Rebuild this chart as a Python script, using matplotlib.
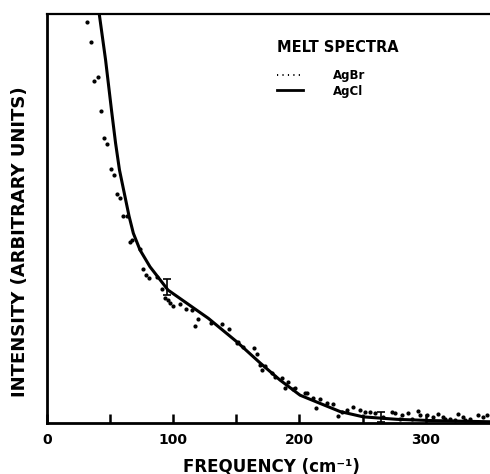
import matplotlib
matplotlib.use("Agg")
import matplotlib.pyplot as plt
from matplotlib.lines import Line2D
from matplotlib.ticker import FixedLocator

plt.rcParams['font.family'] = ['DejaVu Sans']

# AgCl melt spectrum (solid curve)
agcl_freq = [41.4, 46.4, 51.1, 54.3, 57.4, 65.0, 68.4, 73.7, 81.6, 90.9, 95.9, 107.0,
             127.8, 150.6, 168.8, 184.6, 200.5, 216.3, 232.2, 250.6, 277.1, 303.5, 351.0]
agcl_int = [100.0, 88.8, 76.5, 68.5, 61.9, 50.6, 46.4, 42.3, 38.2, 34.5, 32.5, 30.1,
            25.6, 19.8, 14.7, 10.5, 6.8, 4.8, 2.8, 1.5, 0.9, 0.6, 0.3]

# AgBr melt spectrum (dotted data)
agbr_freq = [31.9, 34.9, 37.5, 40.2, 42.8, 45.4, 47.8, 50.5, 52.9, 55.5, 57.8, 60.5, 63.2,
             65.8, 67.6, 73.7, 75.8, 78.4, 81.1, 86.9, 90.9, 93.5, 96.1, 97.5, 100.1,
             105.4, 109.9, 114.7, 117.0, 119.7, 130.0, 138.9, 144.5, 150.3, 151.6, 155.5,
             164.0, 166.2, 168.8, 170.4, 172.7, 178.1, 180.7, 186.0, 191.2, 188.6, 195.2,
             196.5, 204.4, 205.8, 211.0, 216.3, 213.2, 221.6, 226.4, 233.5, 230.8, 237.5,
             242.7, 248.0, 252.0, 255.9, 259.9, 266.5, 273.1, 275.8, 281.1, 286.3, 294.2,
             295.6, 300.9, 306.1, 310.1, 314.0, 319.3, 325.9, 329.9, 335.2, 341.8, 345.7,
             348.4, 279.7, 289.2, 315.4, 323.3, 331.2]
agbr_int = [98.0, 93.2, 83.7, 84.5, 76.3, 69.8, 68.1, 62.2, 60.6, 56.0, 55.0, 50.6, 50.6,
            44.3, 44.7, 42.5, 37.7, 36.2, 35.4, 35.6, 32.7, 30.5, 30.1, 29.4, 28.6,
            29.1, 27.9, 27.6, 23.7, 25.4, 24.4, 24.2, 23.1, 19.6, 19.9, 18.5,
            18.4, 16.9, 14.2, 13.0, 13.9, 12.2, 11.3, 10.9, 10.1, 8.5, 8.2,
            8.5, 7.3, 7.3, 6.0, 5.8, 3.6, 4.8, 4.6, 2.8, 1.7, 3.2,
            4.0, 3.3, 2.8, 2.8, 2.4, 1.5, 2.8, 2.5, 2.0, 2.4, 3.0,
            2.0, 2.0, 1.5, 2.2, 1.5, 1.1, 2.2, 1.5, 0.9, 2.0, 1.5,
            2.0, 0.9, 1.0, 0.9, 0.7, 0.7]

# error bars
err_freq = [94.8, 264.7]
err_int = [33.2, 1.55]
err_lo = [1.9, 1.25]
err_hi = [1.9, 1.25]

xticks_major = [0, 100, 200, 300]
xticks_minor = [50, 150, 250]

fig = plt.figure(figsize=(4.9, 4.74), dpi=100)
ax = fig.add_axes([47/490, 1-423/474, 443/490, 409/474])

ax.plot(agcl_freq, agcl_int, color='black', lw=2.2, solid_capstyle='round',
        solid_joinstyle='round')
ax.plot(agbr_freq, agbr_int, linestyle='none', marker='o', ms=2.0, color='black')
ax.errorbar(err_freq, err_int, yerr=[err_lo, err_hi], fmt='none', ecolor='black',
            elinewidth=1.2, capsize=3, capthick=1.2)

ax.set_xlim(0, 351)
ax.set_ylim(0, 100)
ax.yaxis.set_major_locator(FixedLocator([]))
ax.xaxis.set_major_locator(FixedLocator(xticks_major))
ax.xaxis.set_minor_locator(FixedLocator(xticks_minor))
ax.set_xticklabels([str(t) for t in xticks_major], fontsize=10, fontweight='bold')
ax.tick_params(axis='x', which='both', direction='in', length=6.5, width=1.8,
               color='black', pad=7)
ax.spines['right'].set_visible(False)
ax.spines['left'].set_linewidth(2.0)
ax.spines['bottom'].set_linewidth(2.0)
ax.spines['top'].set_linewidth(1.6)

handles = [Line2D([], [], color='black', lw=1.4, linestyle=(0, (0.6, 2.2))),
           Line2D([], [], color='black', lw=2.0)]
leg = ax.legend(handles, ['AgBr', 'AgCl'], loc='upper left',
                bbox_to_anchor=((277-47)/443, (423-69)/409), frameon=False,
                prop={'weight': 'bold', 'size': 8.5},
                handlelength=2.2, handletextpad=2.5, labelspacing=0.22, borderpad=0,
                borderaxespad=0)
fig.text(277/490, 1-47/474, 'MELT SPECTRA', ha='left', va='center',
         fontsize=10.5, fontweight='bold')

fig.text(271/490, 1-466/474, 'FREQUENCY (cm⁻¹)', ha='center', va='center',
         fontsize=12, fontweight='bold')
fig.text(20/490, 1-242/474, 'INTENSITY (ARBITRARY UNITS)', ha='center', va='center',
         rotation=90, fontsize=13, fontweight='bold')

fig.savefig('out.png', dpi=100)
